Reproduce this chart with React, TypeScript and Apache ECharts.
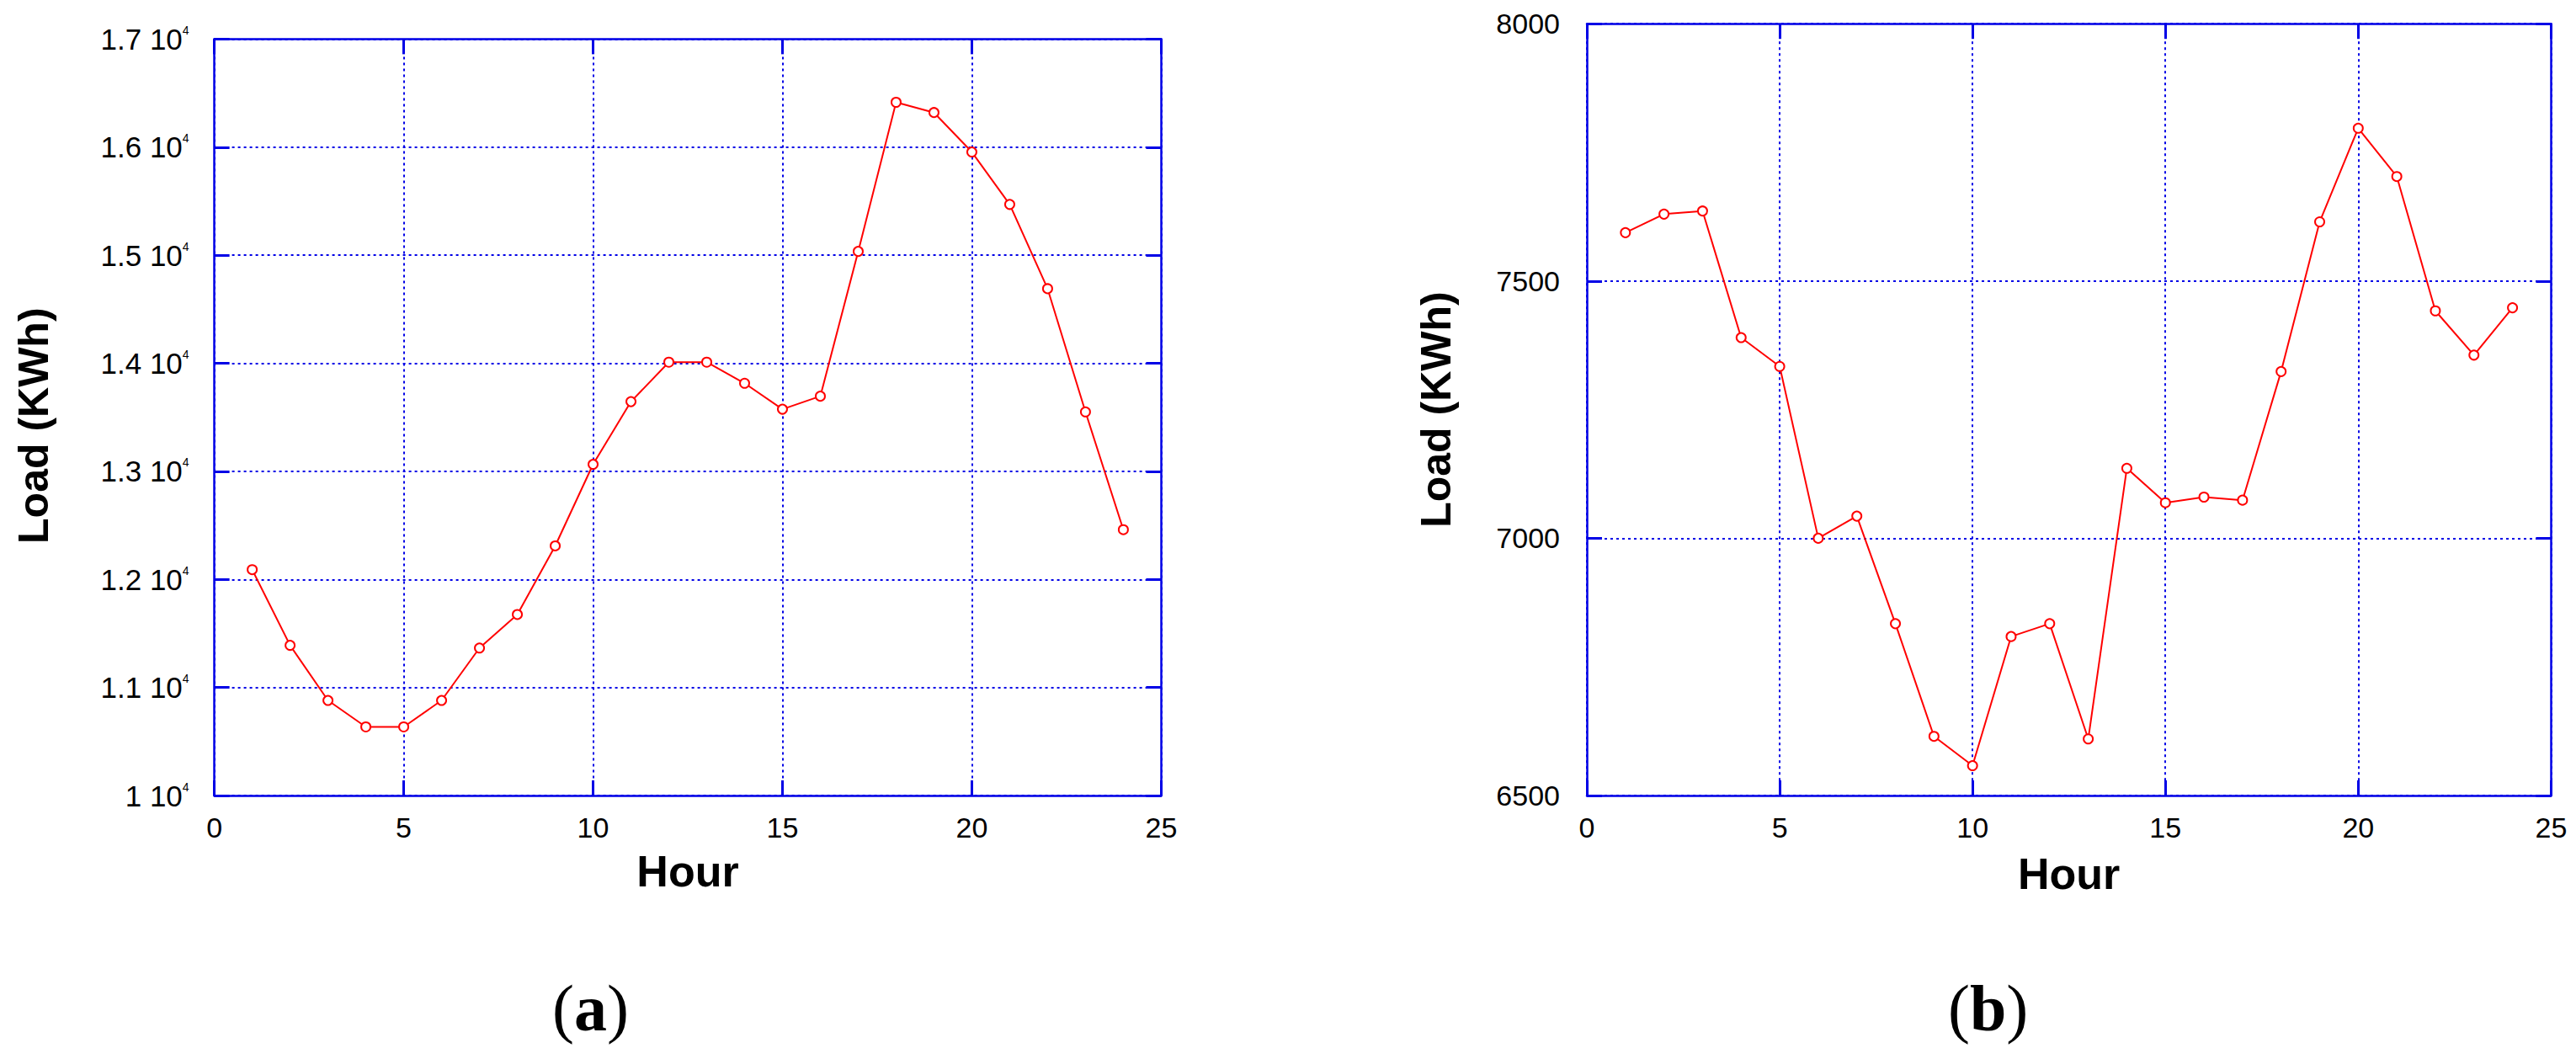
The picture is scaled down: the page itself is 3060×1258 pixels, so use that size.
import React, { useEffect, useRef } from 'react';
import * as echarts from 'echarts';

// ---- data ----
const hours = [1, 2, 3, 4, 5, 6, 7, 8, 9, 10, 11, 12, 13, 14, 15, 16, 17, 18, 19, 20, 21, 22, 23, 24];
const loadA = [12090, 11390, 10880, 10635, 10635, 10880, 11365, 11675, 12310, 13065, 13645, 14010, 14010, 13815, 13575, 13695, 15035, 16415, 16320, 15955, 15470, 14690, 13550, 12460];
const loadB = [7594, 7630, 7636, 7390, 7334, 7000, 7043, 6834, 6615, 6558, 6809, 6834, 6610, 7136, 7069, 7080, 7074, 7324, 7615, 7797, 7703, 7442, 7356, 7448];
const xTicks = [0, 5, 10, 15, 20, 25];
const yTicksA = [10000, 11000, 12000, 13000, 14000, 15000, 16000, 17000];
const yTicksB = [6500, 7000, 7500, 8000];
const xName = 'Hour';
const yName = 'Load (KWh)';
const captions = ['a', 'b'];

const BLUE = '#0000e6';
const RED = '#ff0000';
const SANS = 'Liberation Sans, Arial, sans-serif';
const SERIF = 'Liberation Serif, Times New Roman, serif';

const first = (a: number[]) => a[0];
const last = (a: number[]) => a[a.length - 1];
const step = (a: number[]) => a[1] - a[0];

function xAxes(gridIndex: number, nameGap: number) {
  const base = {
    type: 'value',
    gridIndex,
    min: first(xTicks),
    max: last(xTicks),
    interval: step(xTicks),
    axisLine: { show: true, onZero: false, lineStyle: { color: BLUE, width: 2.5 } },
    axisTick: { show: true, inside: true, length: 18, lineStyle: { color: BLUE, width: 3 } },
  };
  return [
    {
      ...base,
      position: 'bottom',
      axisLabel: { show: true, color: '#000', fontFamily: SANS, fontSize: 34, margin: 21 },
      splitLine: { show: true, lineStyle: { color: BLUE, width: 2, type: [3, 4] } },
      name: xName,
      nameLocation: 'middle',
      nameGap,
      nameTextStyle: { fontFamily: SANS, fontWeight: 'bold', fontSize: 52, color: '#000' },
    },
    {
      ...base,
      position: 'top',
      axisLabel: { show: false },
      splitLine: { show: false },
    },
  ];
}

function yAxes(gridIndex: number, ticks: number[], nameGap: number, labelMargin: number, formatter: any, rich: any, namePad: number[]) {
  const base = {
    type: 'value',
    gridIndex,
    min: first(ticks),
    max: last(ticks),
    interval: step(ticks),
    axisLine: { show: true, onZero: false, lineStyle: { color: BLUE, width: 2.5 } },
    axisTick: { show: true, inside: true, length: 18, lineStyle: { color: BLUE, width: 3 } },
  };
  return [
    {
      ...base,
      position: 'left',
      axisLabel: { show: true, color: '#000', fontFamily: SANS, fontSize: 34, margin: labelMargin, formatter, rich },
      splitLine: { show: true, lineStyle: { color: BLUE, width: 2, type: [3, 4] } },
      name: yName,
      nameLocation: 'middle',
      nameGap,
      nameTextStyle: { fontFamily: SANS, fontWeight: 'bold', fontSize: 50, color: '#000', padding: namePad },
    },
    {
      ...base,
      position: 'right',
      axisLabel: { show: false },
      splitLine: { show: false },
    },
  ];
}

export default function App() {
  const ref = useRef<HTMLDivElement>(null);
  useEffect(() => {
    const chart = echarts.init(ref.current!, null, { renderer: 'svg' });

    const sciFormatter = (v: number) => {
      const m = Number((v / 10000).toFixed(1)).toString();
      return `{n|${m} 10}{s|4}`;
    };
    const sciRich = {
      n: { fontFamily: SANS, fontSize: 35, color: '#000' },
      s: { fontFamily: SANS, fontSize: 14, color: '#000', verticalAlign: 'top' },
    };

    const seriesStyle = {
      type: 'line',
      symbol: 'emptyCircle',
      symbolSize: 11,
      itemStyle: { color: RED, borderColor: RED, borderWidth: 3 },
      lineStyle: { color: RED, width: 2 },
      z: 5,
    };

    const option: any = {
      animation: false,
      backgroundColor: '#ffffff',
      grid: [
        { left: 254.6, top: 46.4, width: 1124.8, height: 898.6 },
        { left: 1885, top: 28.2, width: 1145.4, height: 916.8 },
      ],
      xAxis: [...xAxes(0, 64), ...xAxes(1, 67)],
      yAxis: [
        ...yAxes(0, yTicksA, 190, 30, sciFormatter, sciRich, [0, 20, 0, 0]),
        ...yAxes(1, yTicksB, 154, 32, (v: number) => String(v), undefined, [0, 0, 0, 0]),
      ],
      series: [
        { ...seriesStyle, xAxisIndex: 0, yAxisIndex: 0, data: hours.map((h, i) => [h, loadA[i]]) },
        { ...seriesStyle, xAxisIndex: 2, yAxisIndex: 2, data: hours.map((h, i) => [h, loadB[i]]) },
      ],
      graphic: captions.map((c, i) => ({
        type: 'text',
        x: i === 0 ? 701.5 : 2361.7,
        y: 1197,
        style: {
          text: `{p|(}{b|${c}}{p|)}`,
          align: 'center',
          verticalAlign: 'middle',
          rich: {
            p: { fontFamily: SERIF, fontSize: 78, fontWeight: 'normal', fill: '#000', color: '#000' },
            b: { fontFamily: SERIF, fontSize: 78, fontWeight: 'bold', fill: '#000', color: '#000' },
          },
        },
      })),
    };
    chart.setOption(option);
    return () => chart.dispose();
  }, []);
  return (
    <div
      ref={ref}
      style={{ position: 'fixed', left: 0, top: 0, width: 3060, height: 1258, background: '#fff' }}
    />
  );
}
